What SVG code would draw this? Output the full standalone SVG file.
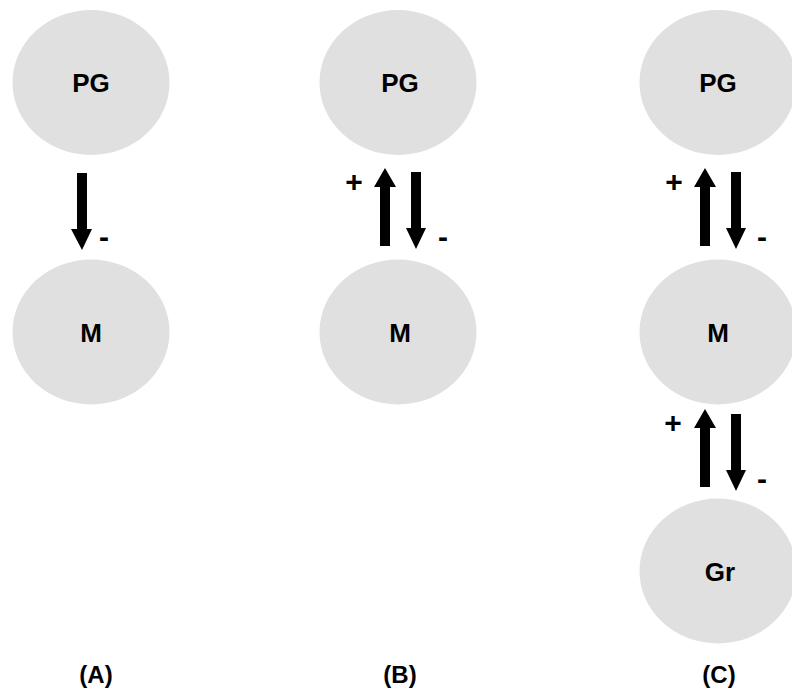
<svg xmlns="http://www.w3.org/2000/svg" width="792" height="693" viewBox="0 0 792 693">
<style>
.node ellipse{fill:#e0e0e0}
text{font-family:"Liberation Sans",Arial,sans-serif;font-weight:bold;fill:#000;text-anchor:middle}
.lbl{font-size:26px}
.sign{font-size:30px}
.cap{font-size:24px}
.arr{fill:#000}
</style>
<rect width="792" height="693" fill="#fff"/>
<g id="A-PG" class="node"><ellipse cx="91" cy="82.5" rx="78.5" ry="72.5"/><text class="lbl" x="91" y="92">PG</text></g>
<g id="A-M" class="node"><ellipse cx="91" cy="332" rx="78.5" ry="72.5"/><text class="lbl" x="91" y="341.5">M</text></g>
<g id="B-PG" class="node"><ellipse cx="398" cy="82.5" rx="78.5" ry="72.5"/><text class="lbl" x="400" y="92">PG</text></g>
<g id="B-M" class="node"><ellipse cx="398" cy="332" rx="78.5" ry="72.5"/><text class="lbl" x="400" y="341.5">M</text></g>
<g id="C-PG" class="node"><ellipse cx="718" cy="82.5" rx="78.5" ry="72.5"/><text class="lbl" x="718" y="92">PG</text></g>
<g id="C-M" class="node"><ellipse cx="718" cy="332" rx="78.5" ry="72.5"/><text class="lbl" x="718" y="341.5">M</text></g>
<g id="C-Gr" class="node"><ellipse cx="718" cy="571" rx="78.5" ry="72.5"/><text class="lbl" x="720" y="580.5">Gr</text></g>
<g id="connectors">
<polygon class="arr" points="77,173 87,173 87,229 92,229 82,250 71,229 77,229"/>
<polygon class="arr" points="380,246 390,246 390,187 396,187 385,168 374,187 380,187"/>
<polygon class="arr" points="411,172 421,172 421,228 426,228 416,249 406,228 411,228"/>
<polygon class="arr" points="700,246 710,246 710,187 716,187 705,168 694,187 700,187"/>
<polygon class="arr" points="731,172 741,172 741,228 746,228 736,249 726,228 731,228"/>
<polygon class="arr" points="700,487 710,487 710,428 716,428 705,409 694,428 700,428"/>
<polygon class="arr" points="731,414 741,414 741,470 746,470 736,491 726,470 731,470"/>
</g>
<g id="signs">
<text class="sign" x="104" y="247">-</text>
<text class="sign" x="443" y="247">-</text>
<text class="sign" x="762" y="247">-</text>
<text class="sign" x="762" y="489">-</text>
<text class="sign" x="354" y="192">+</text>
<text class="sign" x="674" y="192">+</text>
<text class="sign" x="673" y="433">+</text>
</g>
<g id="captions">
<text class="cap" x="96" y="683">(A)</text>
<text class="cap" x="400" y="683">(B)</text>
<text class="cap" x="719" y="683">(C)</text>
</g>
</svg>
